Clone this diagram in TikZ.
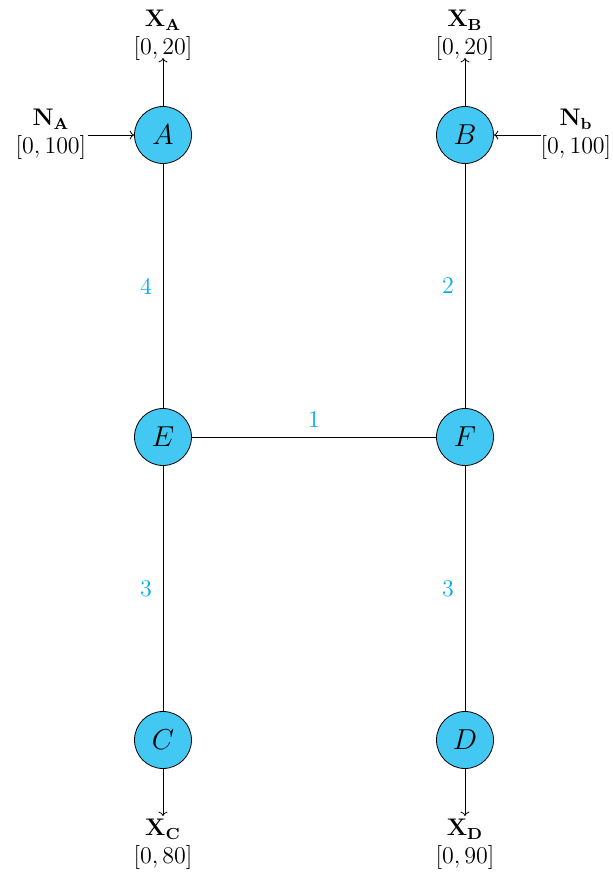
\documentclass[tikz,border=0pt]{standalone}
\usetikzlibrary{arrows.meta}
\definecolor{nodefill}{RGB}{66,200,242}
\definecolor{lblcyan}{RGB}{0,174,239}
\begin{document}
\begin{tikzpicture}[x=0.5pt,y=-0.5pt,
  vert/.style={circle,draw=black,fill=nodefill,minimum size=28.5pt,inner sep=0pt,font=\fontsize{14}{16}\selectfont},
  elab/.style={text=lblcyan,font=\fontsize{12}{14}\selectfont},
  tlab/.style={align=center,font=\fontsize{12}{13.8}\selectfont},
  conn/.style={draw=black,line width=0.4pt},
  arr/.style={conn,-{To[length=2.2pt,width=4.5pt]}}]
\useasboundingbox (0,0) rectangle (613,872);
\node[vert] (A) at (163,135) {$A$};
\node[vert] (B) at (465,135) {$B$};
\node[vert] (E) at (163,437) {$E$};
\node[vert] (F) at (465,437) {$F$};
\node[vert] (C) at (163,740) {$C$};
\node[vert] (D) at (465,740) {$D$};
% labels
\node[tlab] (XA) at (163,35) {$\mathbf{X_A}$\\$[0,20]$};
\node[tlab] (XB) at (465,35) {$\mathbf{X_B}$\\$[0,20]$};
\node[tlab] (NA) at (51,134) {$\mathbf{N_A}$\\$[0,100]$};
\node[tlab] (NB) at (576,134) {$\mathbf{N_b}$\\$[0,100]$};
\node[tlab] (XC) at (163,844) {$\mathbf{X_C}$\\$[0,80]$};
\node[tlab] (XD) at (465,844) {$\mathbf{X_D}$\\$[0,90]$};
\coordinate (xa) at (163,58);
\coordinate (xb) at (465,58);
\coordinate (na) at (88,135);
\coordinate (nb) at (541,135);
\coordinate (xc) at (163,816);
\coordinate (xd) at (465,816);
\draw[arr] (A) -- (xa);
\draw[arr] (B) -- (xb);
\draw[arr] (na) -- (A);
\draw[arr] (nb) -- (B);
\draw[arr] (C) -- (xc);
\draw[arr] (D) -- (xd);
% edges
\draw[conn] (A) -- node[elab,left=2pt] {4} (E);
\draw[conn] (B) -- node[elab,left=2pt] {2} (F);
\draw[conn] (E) -- node[elab,above=1pt] {1} (F);
\draw[conn] (E) -- node[elab,left=2pt] {3} (C);
\draw[conn] (F) -- node[elab,left=2pt] {3} (D);
\end{tikzpicture}
\end{document}
